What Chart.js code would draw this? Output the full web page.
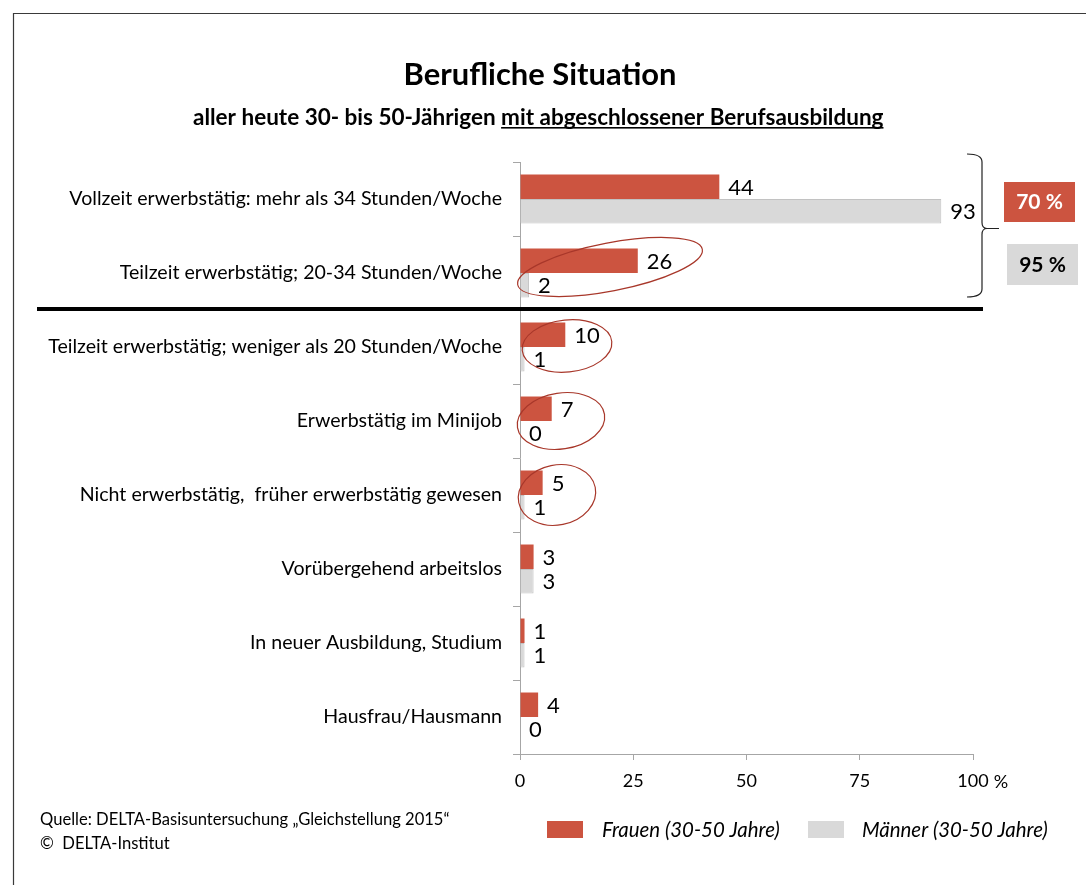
<!DOCTYPE html>
<html><head><meta charset="utf-8">
<script src="https://cdn.jsdelivr.net/npm/chart.js@4/dist/chart.umd.min.js"></script>
<style>html,body{margin:0;padding:0;background:#fff;overflow:hidden}canvas{display:block}</style>
</head><body><canvas id="c" width="1086" height="885"></canvas>
<script>
const categories = [
  'Vollzeit erwerbstätig: mehr als 34 Stunden/Woche',
  'Teilzeit erwerbstätig; 20-34 Stunden/Woche',
  'Teilzeit erwerbstätig; weniger als 20 Stunden/Woche',
  'Erwerbstätig im Minijob',
  'Nicht erwerbstätig,  früher erwerbstätig gewesen',
  'Vorübergehend arbeitslos',
  'In neuer Ausbildung, Studium',
  'Hausfrau/Hausmann'
];
const frauen = [44, 26, 10, 7, 5, 3, 1, 4];
const maenner = [93, 2, 1, 0, 1, 3, 1, 0];
const xTicks = [0, 25, 50, 75, 100];
const seriesNames = ['Frauen (30-50 Jahre)', 'Männer (30-50 Jahre)'];
const summaryLabels = ['70 %', '95 %'];
const titleText = 'Berufliche Situation';
const subtitlePlain = 'aller heute 30- bis 50-Jährigen ';
const subtitleUnderlined = 'mit abgeschlossener Berufsausbildung';
const sourceLines = ['Quelle: DELTA-Basisuntersuchung \u201eGleichstellung 2015\u201c', '\u00a9  DELTA-Institut'];

const FONT = 'Lato, "Open Sans", sans-serif';
const RED = '#cc5440', GRAY = '#d9d9d9', AXIS = '#a6a6a6', ELL = '#a8372a';

const mctx = document.createElement('canvas').getContext('2d');
function fit(text, weight, style, target) {
  mctx.font = `${style} ${weight} 100px ${FONT}`;
  return 100 * target / mctx.measureText(text).width;
}
const catSize = fit('Teilzeit erwerbstätig; weniger als 20 Stunden/Woche', 'normal', 'normal', 454);

const deco = {
  id: 'deco',
  beforeDraw(chart) {
    const c = chart.ctx;
    c.save(); c.fillStyle = '#fff'; c.fillRect(0, 0, chart.width, chart.height); c.restore();
  },
  afterDatasetsDraw(chart) {
    const c = chart.ctx;
    c.save();
    c.fillStyle = '#000';
    c.textBaseline = 'middle';
    c.textAlign = 'left';
    c.font = `normal 22px ${FONT}`;
    chart.data.datasets.forEach((ds, di) => {
      const meta = chart.getDatasetMeta(di);
      meta.data.forEach((el, i) => {
        c.fillText(String(ds.data[i]), el.x + 9, el.y + 1);
      });
    });
    c.restore();
  },
  afterDraw(chart) {
    const c = chart.ctx;
    const xs = chart.scales.x, ys = chart.scales.y;
    const L = chart.chartArea.left;
    c.save();
    // frame
    c.strokeStyle = '#3a3a3a'; c.lineWidth = 1.2;
    c.beginPath(); c.moveTo(13.5, 885); c.lineTo(13.5, 13.5); c.lineTo(1086, 13.5); c.stroke();

    // title
    c.fillStyle = '#000'; c.textBaseline = 'middle'; c.textAlign = 'center';
    let s = fit(titleText, 'bold', 'normal', 273);
    c.font = `bold ${s}px ${FONT}`;
    c.fillText(titleText, 540, 75);
    // subtitle
    const full = subtitlePlain + subtitleUnderlined;
    s = fit(full, 'bold', 'normal', 691);
    c.font = `bold ${s}px ${FONT}`;
    c.textAlign = 'left';
    const x0 = 193;
    c.fillText(subtitlePlain, x0, 118);
    const wPlain = c.measureText(subtitlePlain).width;
    c.fillText(subtitleUnderlined, x0 + wPlain, 118);
    const wU = c.measureText(subtitleUnderlined).width;
    c.fillRect(x0 + wPlain, 127, wU, 1.6);

    // separator
    c.fillRect(37, 307, 946, 4);

    // percent after 100
    c.font = `normal 18px ${FONT}`;
    c.textAlign = 'left';
    const w100 = c.measureText('100').width;
    c.fillText('%', xs.getPixelForValue(100) + w100 / 2 + 5, 782);

    // ellipses
    const ells = [
      {cat: 1, dx: 90, dy: -6, rx: 94, ry: 24, rot: -0.19},
      {cat: 2, dx: 47, dy: -1, rx: 45, ry: 26, rot: -0.1},
      {cat: 3, dx: 41, dy: 0, rx: 44, ry: 28, rot: -0.15},
      {cat: 4, dx: 37, dy: 0, rx: 39, ry: 30, rot: -0.2}
    ];
    c.strokeStyle = ELL; c.lineWidth = 1.2;
    ells.forEach(e => {
      const cy = ys.getPixelForValue(e.cat) + e.dy;
      c.beginPath();
      c.ellipse(L + e.dx, cy, e.rx, e.ry, e.rot, 0, Math.PI * 2);
      c.stroke();
    });

    // brace
    const top = ys.getPixelForValue(0) - 45, bot = ys.getPixelForValue(1) + 24;
    const mid = (top + bot) / 2 + 3;
    c.strokeStyle = '#222'; c.lineWidth = 1.2;
    c.beginPath();
    c.moveTo(967, top);
    c.quadraticCurveTo(982, top, 982, top + 8);
    c.lineTo(982, mid - 6);
    c.quadraticCurveTo(982, mid, 987, mid);
    c.lineTo(999, mid);
    c.moveTo(987, mid);
    c.quadraticCurveTo(982, mid, 982, mid + 6);
    c.lineTo(982, bot - 8);
    c.quadraticCurveTo(982, bot, 967, bot);
    c.stroke();

    // summary boxes
    c.fillStyle = RED; c.fillRect(1004, 182, 71, 40);
    c.fillStyle = GRAY; c.fillRect(1007, 244, 71, 41);
    c.font = `bold 21px ${FONT}`; c.textAlign = 'center';
    c.fillStyle = '#fff'; c.fillText(summaryLabels[0], 1039.5, 202);
    c.fillStyle = '#000'; c.fillText(summaryLabels[1], 1042.5, 265);

    // source
    c.textAlign = 'left';
    s = fit(sourceLines[0], 'normal', 'normal', 410);
    c.font = `normal ${s}px ${FONT}`;
    c.fillText(sourceLines[0], 40, 820);
    c.fillText(sourceLines[1], 40, 844);

    // legend
    const colors = [RED, GRAY];
    const lx = [547, 808], tx = [602, 862];
    const fs = fit(seriesNames[0], 'normal', 'italic', 178);
    seriesNames.forEach((n, i) => {
      c.fillStyle = colors[i];
      c.fillRect(lx[i], 821, 36, 17);
      c.fillStyle = '#000';
      c.font = `italic normal ${fs}px ${FONT}`;
      c.fillText(n, tx[i], 830);
    });
    c.restore();
  }
};

new Chart(document.getElementById('c').getContext('2d'), {
  type: 'bar',
  data: {
    labels: categories,
    datasets: [
      {label: seriesNames[0], data: frauen, backgroundColor: RED, borderWidth: 0},
      {label: seriesNames[1], data: maenner, backgroundColor: GRAY, borderColor: '#c2c2c2', borderWidth: 1}
    ]
  },
  options: {
    indexAxis: 'y',
    responsive: false,
    animation: false,
    devicePixelRatio: 1,
    categoryPercentage: 0.662,
    barPercentage: 1,
    layout: {padding: {top: 162, left: 0, right: 113, bottom: 91}},
    plugins: {legend: {display: false}, tooltip: {enabled: false}},
    scales: {
      y: {
        grid: {drawOnChartArea: false, color: AXIS, tickLength: 7, offset: true},
        border: {color: AXIS},
        ticks: {color: '#000', font: {family: FONT, size: catSize}, padding: 11},
        afterFit(s) { s.width = 520; }
      },
      x: {
        min: 0, max: 100,
        afterBuildTicks(s) { s.ticks = xTicks.map(v => ({value: v})); },
        grid: {drawOnChartArea: false, color: AXIS, tickLength: 6},
        border: {color: AXIS},
        ticks: {color: '#000', font: {family: FONT, size: 18}, padding: 10, maxRotation: 0,
          callback: v => String(v)},
        afterFit(s) { s.height = 40; }
      }
    }
  },
  plugins: [deco]
});
</script>
</body></html>
